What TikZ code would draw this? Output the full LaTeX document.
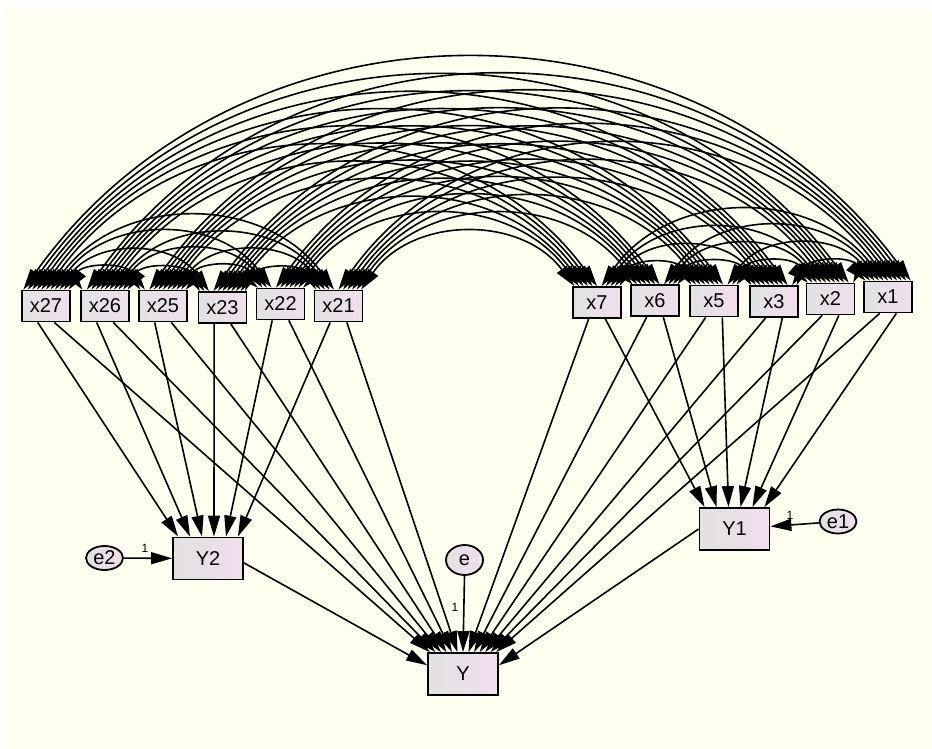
\documentclass[tikz,border=0pt]{standalone}
\usepackage{fontspec}
\setmainfont{Liberation Sans}
\usetikzlibrary{arrows.meta,calc,shapes.geometric}
\definecolor{bgc}{RGB}{255,255,240}
\definecolor{boxl}{RGB}{226,226,226}
\definecolor{boxr}{RGB}{240,222,236}
\begin{document}
\begin{tikzpicture}[x=1pt,y=1pt,
  var/.style={draw=black, line width=1.8pt, left color=boxl, right color=boxr,
    minimum width=48pt, minimum height=31pt, inner sep=0pt,
    font=\fontsize{20}{20}\selectfont},
  bigvar/.style={var, minimum width=70pt, minimum height=42pt},
  err/.style={ellipse, draw=black, line width=1.8pt, left color=boxl, right color=boxr,
    inner sep=0pt, minimum width=37pt, minimum height=24pt,
    font=\fontsize{20}{20}\selectfont},
  regr/.style={line width=1.6pt, -{Triangle[length=21pt,width=12pt]}},
  cov/.style={line width=1.6pt, {Triangle[length=21pt,width=12pt]}-{Triangle[length=21pt,width=12pt]}},
  wlabel/.style={font=\fontsize{12}{12}\selectfont, inner sep=0pt}
]
\useasboundingbox (0,0) rectangle (932,-749);
\fill[white] (0,0) rectangle (932,-749);
\fill[bgc] (3,-8) rectangle (932,-749);

% observed variables
\node[var] (x27) at (46,-306) {x27};
\node[var] (x26) at (105,-306) {x26};
\node[var] (x25) at (163,-306) {x25};
\node[var] (x23) at (222.5,-307.5) {x23};
\node[var] (x22) at (280.5,-304) {x22};
\node[var] (x21) at (338.5,-306) {x21};
\node[var] (x7) at (597,-302.5) {x7};
\node[var] (x6) at (655,-300.7) {x6};
\node[var] (x5) at (714,-301) {x5};
\node[var] (x3) at (774,-301.5) {x3};
\node[var] (x2) at (830.5,-299) {x2};
\node[var] (x1) at (888,-297) {x1};

\node[bigvar] (Y2) at (208,-558.5) {Y2};
\node[bigvar] (Y) at (463,-674) {Y};
\node[bigvar] (Y1) at (734.5,-529) {Y1};

\node[err] (e2) at (104.5,-558) {e2};
\node[err, minimum height=30pt] (e) at (464.5,-560) {e};
\node[err] (e1) at (838,-521.5) {e1};

% covariances
\def\xlist{x27,x26,x25,x23,x22,x21,x7,x6,x5,x3,x2,x1}
\foreach \a [count=\i] in \xlist {
  \foreach \b [count=\j] in \xlist {
    \ifnum\j>\i
      \pgfmathsetmacro\fa{((\i-1)+(12-\j)+0.5)/11}
      \pgfmathsetmacro\fb{((\j-1-\i)+0.5)/11}
      \draw[cov] ($(\a.north west)!\fa!(\a.north east)$) to[bend left=54, looseness=1.07]
        ($(\b.north west)!\fb!(\b.north east)$);
    \fi
  }
}

% regressions, left block
\foreach \a [count=\i] in {x27,x26,x25,x23,x22,x21} {
  \pgfmathsetmacro\ft{(\i-0.5)/6}
  \pgfmathsetmacro\fy{(\i-0.5)/13}
  \draw[regr] ($(\a.south west)!0.333!(\a.south east)$) -- ($(Y2.north west)!\ft!(Y2.north east)$);
  \draw[regr] ($(\a.south west)!0.667!(\a.south east)$) -- ($(Y.north west)!\fy!(Y.north east)$);
}
% regressions, right block
\foreach \a [count=\i] in {x7,x6,x5,x3,x2,x1} {
  \pgfmathsetmacro\ft{(\i-0.5)/6}
  \pgfmathsetmacro\fy{(\i+6.5)/13}
  \draw[regr] ($(\a.south west)!0.333!(\a.south east)$) -- ($(Y.north west)!\fy!(Y.north east)$);
  \draw[regr] ($(\a.south west)!0.667!(\a.south east)$) -- ($(Y1.north west)!\ft!(Y1.north east)$);
}

\draw[regr] (e.south) -- (Y.north);
\draw[regr] ($(Y2.north east)!0.6!(Y2.south east)$) -- ($(Y.north west)!0.3!(Y.south west)$);
\draw[regr] (Y1.west) -- ($(Y.north east)!0.3!(Y.south east)$);
\draw[regr] (e2) -- (Y2);
\draw[regr] (e1) -- (Y1);

\node[wlabel] (l2) at (145,-548) {1};
\node[wlabel] (l0) at (455,-607) {1};
\node[wlabel] (l1) at (790,-515) {1};
\end{tikzpicture}
\end{document}
